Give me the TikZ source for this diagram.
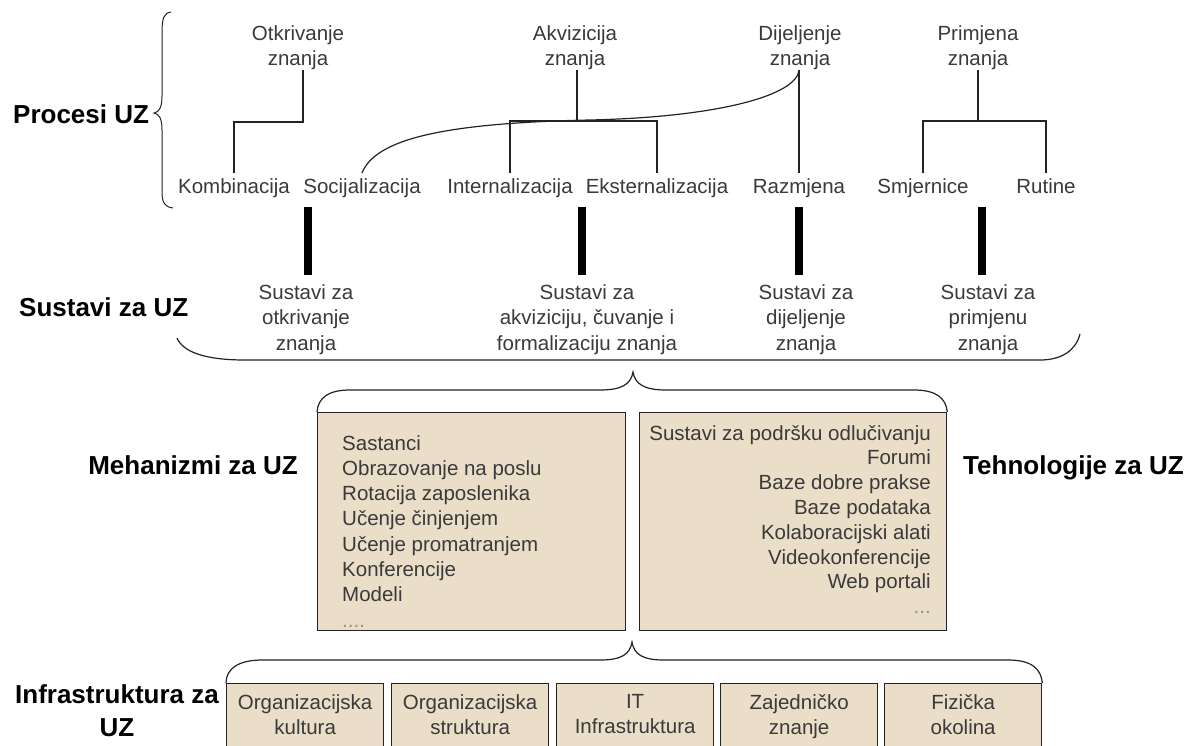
\documentclass[tikz,border=0pt]{standalone}
\usepackage{fontspec}
\setmainfont{Liberation Sans}
\definecolor{beige}{RGB}{234,222,200}
\definecolor{txt}{RGB}{58,58,58}
\definecolor{ln}{RGB}{35,35,35}
\begin{document}
\begin{tikzpicture}[x=1pt,y=-1pt,
  lbl/.style={font=\fontsize{20.5}{25.5}\selectfont, text=txt, inner sep=0pt, align=center},
  rowlbl/.style={lbl, text height=15pt, text depth=4.5pt, outer sep=5pt},
  head/.style={font=\fontsize{26}{33}\selectfont\bfseries, text=black, inner sep=0pt},
  conn/.style={draw=ln, line width=1.2pt},
  bar/.style={draw=black, line width=8.5pt},
  box/.style={draw=ln, fill=beige, line width=1.3pt, inner sep=0pt},
  brace/.style={draw=ln, line width=1.2pt}
]
\useasboundingbox (0,0) rectangle (1190,745);
\clip (0,0) rectangle (1190,745);
\fill[white] (0,0) rectangle (1190,745);

% ---- headings
\node[head, anchor=base west] (hproc) at (13,123) {Procesi UZ};
\node[head, anchor=base west] (hsus) at (19,316) {Sustavi za UZ};
\node[head, anchor=base east] (hmeh) at (298,474) {Mehanizmi za UZ};
\node[head, anchor=base west] (htech) at (963,474) {Tehnologije za UZ};
\node[head, anchor=north, align=center] (hinf) at (117,684) {Infrastruktura za\\UZ};

% ---- process brace
\draw[brace, line width=1pt] (171,12) .. controls (164,13) and (162,18) .. (162,32) -- (162,96)
  .. controls (162,108) and (159,112) .. (154,113) .. controls (159,114) and (162,118) .. (162,130)
  -- (162,192) .. controls (162,203) and (165,207) .. (173,208);

% ---- top labels
\node[lbl, anchor=south] (otk) at (298,70) {Otkrivanje\\znanja};
\node[lbl, anchor=south] (akv) at (575,70) {Akvizicija\\znanja};
\node[lbl, anchor=south] (dij) at (800,70) {Dijeljenje\\znanja};
\node[lbl, anchor=south] (prim) at (978,70) {Primjena\\znanja};

% ---- process row
\node[rowlbl, anchor=base] (komb) at (234,193) {Kombinacija};
\node[rowlbl, anchor=base] (soc) at (362,193) {Socijalizacija};
\node[rowlbl, anchor=base] (int) at (510,193) {Internalizacija};
\node[rowlbl, anchor=base] (eks) at (657,193) {Eksternalizacija};
\node[rowlbl, anchor=base] (raz) at (799,193) {Razmjena};
\node[rowlbl, anchor=base] (smj) at (923,193) {Smjernice};
\node[rowlbl, anchor=base] (rut) at (1046,193) {Rutine};

% ---- tree connectors
\coordinate (otkj) at (303,122);
\draw[conn] (otkj |- otk.south) -- (otkj) -| (komb);
\coordinate (akvj) at (577,121);
\draw[conn] (akvj |- akv.south) -- (akvj);
\draw[conn] (int) |- (akvj) -| (eks);
\draw[conn] (soc.north) .. controls (375,140) and (440,123) .. (590,120)
  .. controls (720,117) and (797,95) .. (dij.south -| raz.north);
\draw[conn] (dij.south -| raz.north) -- (raz.north);
\coordinate (primj) at (978,121);
\draw[conn] (prim) -- (primj);
\draw[conn] (smj) |- (primj) -| (rut);

% ---- bars
\coordinate (b1a) at (308,207); \coordinate (b1b) at (308,275);
\coordinate (b2a) at (582,207); \coordinate (b2b) at (582,275);
\coordinate (b3a) at (799,207); \coordinate (b3b) at (799,275);
\coordinate (b4a) at (982,207); \coordinate (b4b) at (982,275);
\draw[bar] (b1a) -- (b1b);
\draw[bar] (b2a) -- (b2b);
\draw[bar] (b3a) -- (b3b);
\draw[bar] (b4a) -- (b4b);

% ---- systems labels
\node[lbl, anchor=north] (s1) at (306,284) {Sustavi za\\otkrivanje\\znanja};
\node[lbl, anchor=north] (s2) at (587,284) {Sustavi za\\akviziciju, čuvanje i\\formalizaciju znanja};
\node[lbl, anchor=north] (s3) at (806,284) {Sustavi za\\dijeljenje\\znanja};
\node[lbl, anchor=north] (s4) at (988,284) {Sustavi za\\primjenu\\znanja};

% ---- systems brace
\draw[brace] (177,338) .. controls (183,352) and (205,360) .. (245,360) -- (1040,360)
  .. controls (1062,360) and (1076,350) .. (1080,334);

% ---- middle boxes
\node[box, anchor=north west, minimum width=308pt, minimum height=218pt] (mech) at (317,412) {};
\node[box, anchor=north west, minimum width=307pt, minimum height=218pt] (tech) at (639,412) {};
\node[lbl, align=left, anchor=north west, font=\fontsize{20.5}{25.3}\selectfont] (mechtxt) at (342,435)
  {Sastanci\\Obrazovanje na poslu\\Rotacija zaposlenika\\Učenje činjenjem\\Učenje promatranjem\\Konferencije\\Modeli\\{\color{txt!55}....}};
\node[lbl, align=right, anchor=north east, font=\fontsize{20.5}{24.8}\selectfont] (techtxt) at (931,425)
  {Sustavi za podršku odlučivanju\\Forumi\\Baze dobre prakse\\Baze podataka\\Kolaboracijski alati\\Videokonferencije\\Web portali\\{\color{txt!55}...}};

\draw[brace] (mech.north west) .. controls (318,398) and (328,390) .. (350,390) -- (600,390)
  .. controls (622,390) and (631,384) .. (633,372) .. controls (635,384) and (644,390) .. (666,390)
  -- (914,390) .. controls (936,390) and (946,398) .. (tech.north east);

% ---- infrastructure boxes
\node[box, anchor=north west, minimum width=157pt, minimum height=80pt] (i1) at (226,683) {};
\node[box, anchor=north west, minimum width=157pt, minimum height=80pt] (i2) at (391,683) {};
\node[box, anchor=north west, minimum width=157pt, minimum height=80pt] (i3) at (556,683) {};
\node[box, anchor=north west, minimum width=157pt, minimum height=80pt] (i4) at (720,683) {};
\node[box, anchor=north west, minimum width=157pt, minimum height=80pt] (i5) at (884,683) {};
\node[lbl, anchor=north, font=\fontsize{20.5}{25}\selectfont] (i1t) at (i1.north |- 0,694) {Organizacijska\\kultura};
\node[lbl, anchor=north, font=\fontsize{20.5}{25}\selectfont] (i2t) at (i2.north |- 0,694) {Organizacijska\\struktura};
\node[lbl, anchor=north, font=\fontsize{20.5}{25}\selectfont] (i3t) at (i3.north |- 0,694) {IT\\Infrastruktura};
\node[lbl, anchor=north, font=\fontsize{20.5}{25}\selectfont] (i4t) at (i4.north |- 0,694) {Zajedničko\\znanje};
\node[lbl, anchor=north, font=\fontsize{20.5}{25}\selectfont] (i5t) at (i5.north |- 0,694) {Fizička\\okolina};

\draw[brace] (i1.north west) .. controls (226,669) and (238,660) .. (262,660) -- (600,660)
  .. controls (622,660) and (630,654) .. (632,642) .. controls (634,654) and (642,660) .. (664,660)
  -- (1008,660) .. controls (1032,660) and (1041,669) .. (i5.north east);
\end{tikzpicture}
\end{document}
